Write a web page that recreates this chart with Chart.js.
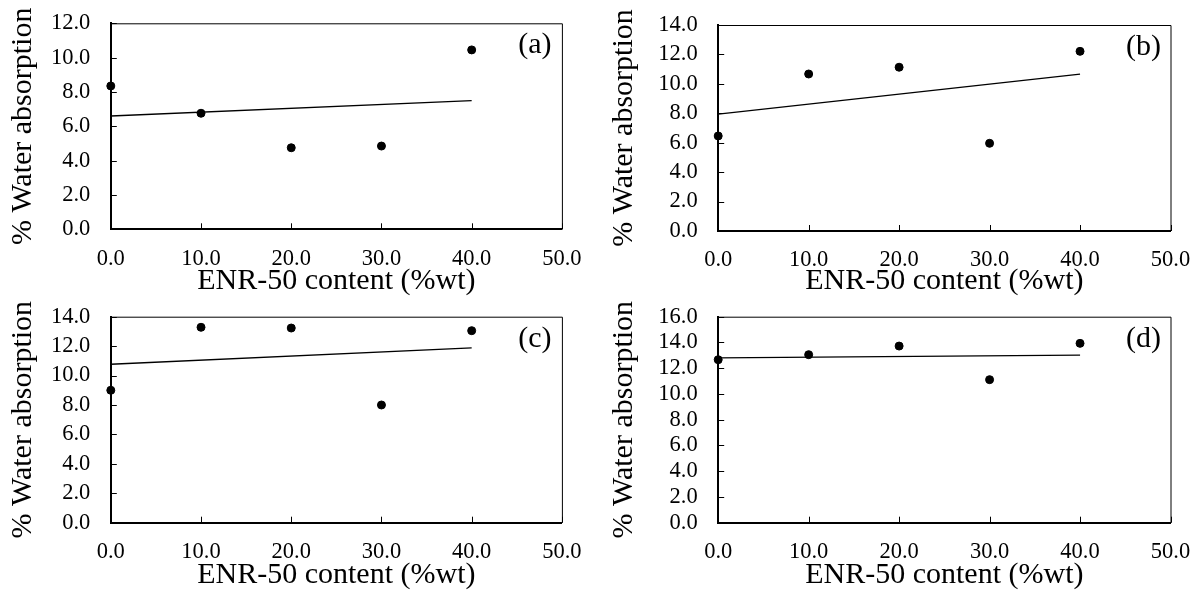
<!DOCTYPE html>
<html><head><meta charset="utf-8">
<script src="https://cdn.jsdelivr.net/npm/chart.js@4.4.0/dist/chart.umd.min.js"></script>
<style>
html,body{margin:0;padding:0;background:#fff;width:1194px;height:591px;overflow:hidden}
.p{position:absolute}
canvas{display:block}
</style></head><body>
<div class="p" style="left:0;top:0"><canvas id="ca" width="597" height="300"></canvas></div>
<div class="p" style="left:597px;top:0"><canvas id="cb" width="597" height="300"></canvas></div>
<div class="p" style="left:0;top:295px"><canvas id="cc" width="597" height="296"></canvas></div>
<div class="p" style="left:597px;top:295px"><canvas id="cd" width="597" height="296"></canvas></div>
<script>
// ---- data ----
const xValues = [0, 10, 20, 30, 40];
const seriesA = [8.35, 6.76, 4.75, 4.85, 10.45];
const seriesB = [6.46, 10.67, 11.13, 5.96, 12.21];
const seriesC = [9.0, 13.28, 13.23, 8.0, 13.05];
const seriesD = [12.66, 13.05, 13.72, 11.11, 13.93];
const trendX = [0, 40];
const trendA = [6.6, 7.5];
const trendB = [7.95, 10.66];
const trendC = [10.77, 11.88];
const trendD = [12.8, 13.02];
const yMaxes = [12, 14, 14, 16];
const xMax = 50;
const xStep = 10;
const yStep = 2;
const panelLabels = ['(a)', '(b)', '(c)', '(d)'];
const xTitle = 'ENR-50 content (%wt)';
const yTitle = '% Water absorption';

// ---- styling / layout ----
const FAMILY = '"Liberation Serif", "Times New Roman", serif';
const tickFont = {family: FAMILY, size: 22.5, lineHeight: 1.2};
const titleFont = {family: FAMILY, size: 30, lineHeight: 1};

const layouts = [
  {id: 'ca', top: 23.3, right: 35.1, yw: 110.8, xh: 70.7, tpb: 3.8, ytp: 8.5},
  {id: 'cb', top: 25,   right: 23.5, yw: 121.2, xh: 69,   tpb: 3.8, ytp: 12.5},
  {id: 'cc', top: 21.7, right: 35.1, yw: 110.8, xh: 68.3, tpb: 0.8, ytp: 8.5},
  {id: 'cd', top: 21.7, right: 23.5, yw: 121.2, xh: 68.3, tpb: 0.8, ytp: 12.5}
];
const seriesList = [seriesA, seriesB, seriesC, seriesD];
const trendList = [trendA, trendB, trendC, trendD];

function framePlugin(label) {
  return {
    id: 'frame',
    afterDraw(chart) {
      const {ctx, chartArea: a, scales} = chart;
      ctx.save();
      ctx.strokeStyle = '#000';
      ctx.lineWidth = 1;
      ctx.beginPath();
      ctx.moveTo(a.left, a.top + 0.5); ctx.lineTo(a.right + 0.5, a.top + 0.5);
      ctx.lineTo(a.right + 0.5, a.bottom);
      ctx.stroke();
      ctx.beginPath();
      scales.y.ticks.forEach(t => {
        const py = Math.round(scales.y.getPixelForValue(t.value)) + 0.5;
        ctx.moveTo(a.left, py); ctx.lineTo(a.left + 6, py);
      });
      scales.x.ticks.forEach(t => {
        const px = Math.round(scales.x.getPixelForValue(t.value)) + 0.5;
        ctx.moveTo(px, a.bottom); ctx.lineTo(px, a.bottom - 6);
      });
      ctx.stroke();
      ctx.fillStyle = '#000';
      ctx.font = '30px ' + FAMILY;
      ctx.textAlign = 'center';
      ctx.textBaseline = 'middle';
      ctx.fillText(label, a.right - 27, a.top + 22);
      ctx.restore();
    }
  };
}

layouts.forEach((L, i) => new Chart(document.getElementById(L.id), {
    data: {
      datasets: [
        {type: 'line', data: trendX.map((x, k) => ({x, y: trendList[i][k]})),
         borderColor: '#000', borderWidth: 1.3, pointRadius: 0, fill: false, tension: 0, order: 2},
        {type: 'scatter', data: xValues.map((x, k) => ({x, y: seriesList[i][k]})),
         backgroundColor: '#000', borderColor: '#000', pointRadius: 4, pointHoverRadius: 4,
         clip: false, order: 1}
      ]
    },
    options: {
      responsive: false, animation: false, events: [],
      layout: {autoPadding: false, padding: {left: 0, top: L.top, right: L.right, bottom: 0}},
      plugins: {legend: {display: false}, tooltip: {enabled: false}, title: {display: false}},
      scales: {
        x: {
          type: 'linear', min: 0, max: xMax,
          ticks: {stepSize: xStep, color: '#000', font: tickFont, padding: 16, maxRotation: 0,
                  autoSkip: false, callback: v => Number(v).toFixed(1)},
          grid: {display: false, drawTicks: false},
          border: {color: '#000', width: 2},
          title: {display: true, text: xTitle, color: '#000', font: titleFont,
                  padding: {top: 0, bottom: L.tpb}},
          afterFit(s) { s.height = L.xh; s.paddingLeft = 0; s.paddingRight = 0; }
        },
        y: {
          type: 'linear', min: 0, max: yMaxes[i],
          ticks: {stepSize: yStep, color: '#000', font: tickFont, padding: 20.5,
                  autoSkip: false, callback: v => Number(v).toFixed(1)},
          grid: {display: false, drawTicks: false},
          border: {color: '#000', width: 2},
          title: {display: true, text: yTitle, color: '#000', font: titleFont,
                  padding: {top: L.ytp, bottom: 0}},
          afterFit(s) { s.width = L.yw; s.paddingTop = 0; s.paddingBottom = 0; }
        }
      }
    },
    plugins: [framePlugin(panelLabels[i])]
  }));
</script>
</body></html>
